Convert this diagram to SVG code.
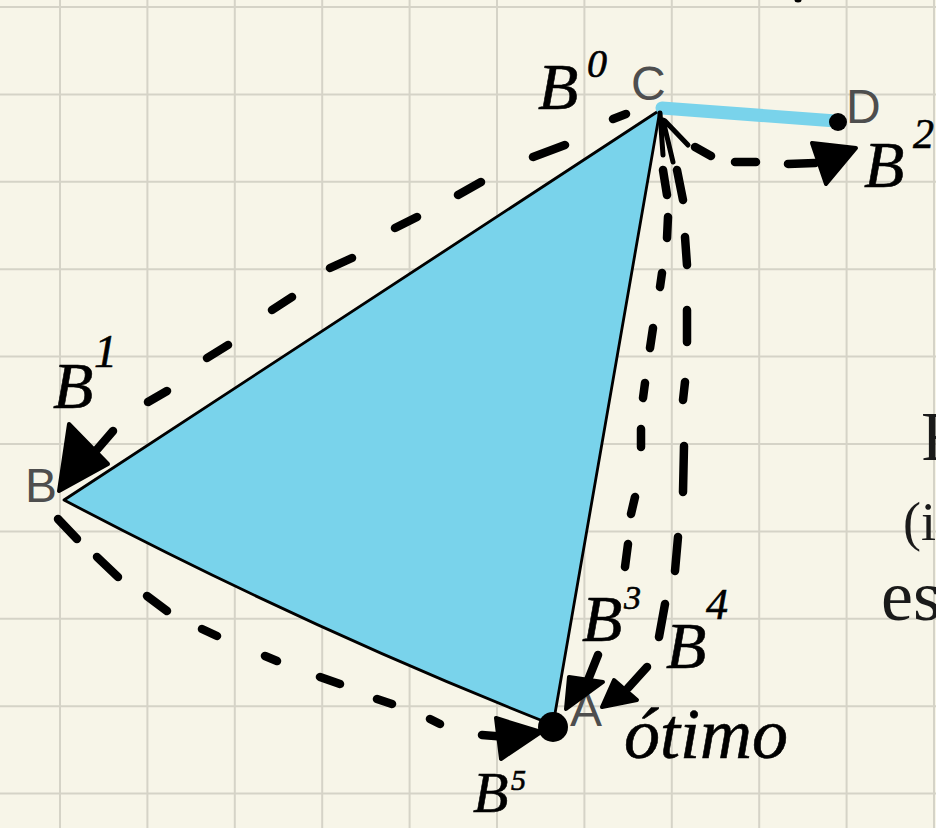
<svg xmlns="http://www.w3.org/2000/svg" width="936" height="828" viewBox="0 0 936 828">
<style>
.grid line{stroke:#d5d3c7;stroke-width:2}
.pt{font-family:"Liberation Sans",Arial,sans-serif;font-size:48px;fill:#4e4e4e}
.hw{font-family:"Liberation Serif","DejaVu Serif",serif;font-style:italic;fill:#000;stroke:#000;stroke-width:0.6}
.dash{fill:none;stroke:#000;stroke-width:8.5;stroke-linecap:round;stroke-linejoin:round}
.head{fill:#000;stroke:#000;stroke-width:4;stroke-linejoin:round}
.side{font-family:"Liberation Serif","Times New Roman",serif;fill:#1a1a1a}
</style>
<rect width="936" height="828" fill="#f7f5e8"/>
<g class="grid" id="grid">
<line x1="60" y1="0" x2="60" y2="828"/><line x1="147.4" y1="0" x2="147.4" y2="828"/><line x1="234.8" y1="0" x2="234.8" y2="828"/><line x1="322.2" y1="0" x2="322.2" y2="828"/><line x1="409.6" y1="0" x2="409.6" y2="828"/><line x1="497" y1="0" x2="497" y2="828"/><line x1="584.4" y1="0" x2="584.4" y2="828"/><line x1="671.8" y1="0" x2="671.8" y2="828"/><line x1="759.2" y1="0" x2="759.2" y2="828"/><line x1="846.6" y1="0" x2="846.6" y2="828"/><line x1="934" y1="0" x2="934" y2="828"/>
<line x1="0" y1="7" x2="936" y2="7"/><line x1="0" y1="94.4" x2="936" y2="94.4"/><line x1="0" y1="181.8" x2="936" y2="181.8"/><line x1="0" y1="269.2" x2="936" y2="269.2"/><line x1="0" y1="356.6" x2="936" y2="356.6"/><line x1="0" y1="444" x2="936" y2="444"/><line x1="0" y1="531.4" x2="936" y2="531.4"/><line x1="0" y1="618.8" x2="936" y2="618.8"/><line x1="0" y1="706.2" x2="936" y2="706.2"/><line x1="0" y1="793.6" x2="936" y2="793.6"/>
</g>
<g id="side-text">
<text class="side" x="921" y="460" font-size="70">F</text>
<text class="side" x="903" y="540" font-size="54">(i</text>
<text class="side" x="881" y="620" font-size="72">es</text>
<ellipse cx="798" cy="0" rx="3.5" ry="2.5" fill="#000"/>
</g>
<g id="triangle">
<path d="M660,110 L64,500 Q307,628 553,725 Z" fill="#79d3eb" stroke="#000" stroke-width="2.8" stroke-linejoin="round"/>
</g>
<g id="segment-CD">
<path d="M662,108 L836,121" fill="none" stroke="#79d3eb" stroke-width="13" stroke-linecap="round"/>
</g>
<g id="node-C"><text class="pt" x="631" y="100">C</text></g>
<g id="node-D"><text class="pt" x="846" y="123">D</text><circle cx="838" cy="122" r="9" fill="#000"/></g>
<g id="node-B"><text class="pt" x="25" y="502">B</text></g>
<g id="node-A"><text class="pt" x="570" y="726">A</text></g>
<g id="connectors">
<g id="fan-C"><path class="dash" style="stroke-width:5" d="M660,113 L663,155 M663,120 L673,162 M665,121 L688,145"/></g>
<g id="B1">
<path class="dash" d="M626,114 L613,119 M565,145 L533,157 M481,182 L458,195 M417,217 L395,228 M352,258 L330,268 M292,297 L272,310 M228,345 L207,358 M167,391 L148,402 M113,431 L88,460"/>
<polygon class="head" points="59,491 69,424 108,464"/>
</g>
<g id="B2">
<path class="dash" d="M695,147 L711,156 M735,162 L756,162 M788,164 L815,163"/>
<polygon class="head" points="812,143 856,148 826,184"/>
</g>
<g id="B3">
<path class="dash" d="M663,170 L667,195 M668,217 L667,238 M662,273 L660,287 M653,328 L650,348 M645,383 L643,398 M641,429 L641,447 M635,497 L631,514 M628,544 L625,567 M598,655 L588,680"/>
<polygon class="head" points="569,677 603,682 566,709"/>
</g>
<g id="B4">
<path class="dash" d="M677,170 L683,200 M685,237 L687,265 M687,310 L687,342 M685,382 L683,400 M684,446 L683,492 M678,537 L675,571 M665,604 L659,637 M647,667 L628,688"/>
<polygon class="head" points="614,680 637,700 602,707"/>
</g>
<g id="B5">
<path class="dash" d="M58,519 L77,539 M97,557 L118,577 M147,596 L167,611 M202,629 L217,636 M265,656 L277,661 M320,677 L340,684 M377,699 L392,704 M430,719 L440,724 M482,735 L507,737"/>
<polygon class="head" points="496,718 541,732 501,759"/>
</g>
</g>
<g id="point-A"><circle cx="553" cy="727" r="15" fill="#000"/></g>
<g id="labels">
<g id="label-B0"><text class="hw" x="538" y="109" font-size="66">B</text><text class="hw" x="587" y="77" font-size="40">0</text></g>
<g id="label-B1"><text class="hw" x="53" y="408" font-size="66">B</text><text class="hw" x="94" y="367" font-size="46">1</text></g>
<g id="label-B2"><text class="hw" x="864" y="187" font-size="66">B</text><text class="hw" x="913" y="148" font-size="42">2</text></g>
<g id="label-B3"><text class="hw" x="582" y="641" font-size="66">B</text><text class="hw" x="624" y="609" font-size="34">3</text></g>
<g id="label-B4"><text class="hw" x="666" y="668" font-size="66">B</text><text class="hw" x="706" y="619" font-size="44">4</text></g>
<g id="label-B5"><text class="hw" x="473" y="812" font-size="58">B</text><text class="hw" x="511" y="790" font-size="30">5</text></g>
<g id="label-otimo"><text class="hw" x="624" y="758" font-size="72">ótimo</text></g>
</g>
</svg>
